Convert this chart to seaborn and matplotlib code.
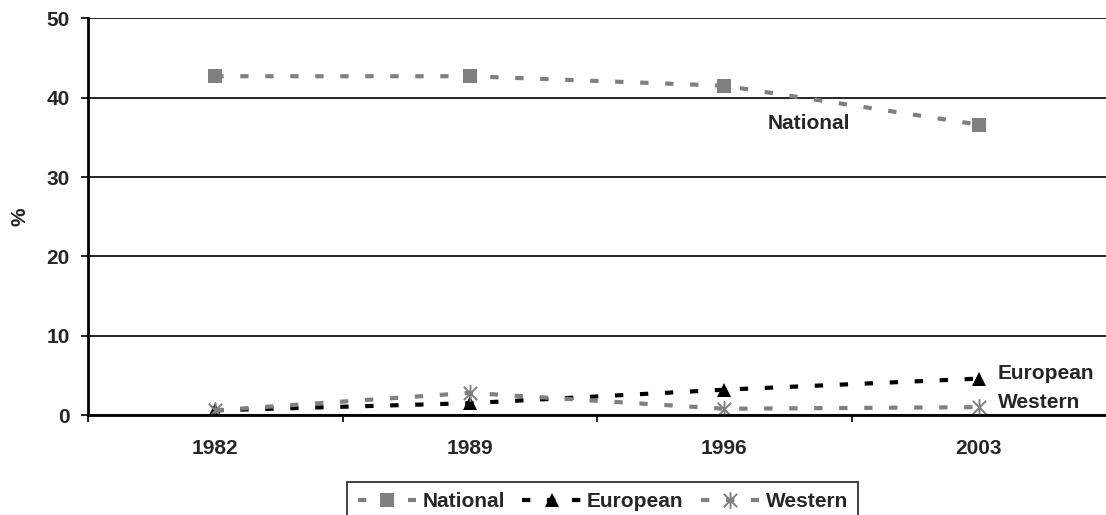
import numpy as np
import pandas as pd
import matplotlib
matplotlib.use("Agg")
import matplotlib.pyplot as plt
from matplotlib.path import Path
import seaborn as sns

years = ["1982", "1989", "1996", "2003"]
national = [42.7, 42.7, 41.5, 36.6]
european = [0.6, 1.5, 3.2, 4.6]
western = [0.6, 2.8, 0.8, 1.0]
yticks = [0, 10, 20, 30, 40, 50]

sns.set_theme(style="white")
plt.rcParams["font.family"] = ["Liberation Sans", "DejaVu Sans"]
plt.rcParams["font.weight"] = "bold"

FS = 15

fig = plt.figure(figsize=(11.06, 5.15), dpi=100)
ax = fig.add_axes([0.0796, 0.194, 0.9204, 0.7705])

x = np.arange(len(years))
star = Path([(-1, -1), (1, 1), (-1, 1), (1, -1), (0, -1.25), (0, 1.25)],
            [Path.MOVETO, Path.LINETO, Path.MOVETO, Path.LINETO, Path.MOVETO, Path.LINETO])

dash = (0, (2, 4))
gray = "#808080"
sns.lineplot(x=x, y=national, ax=ax, color=gray, linestyle=dash, lw=3,
             marker="s", markersize=9.5, mec=gray, mfc=gray, mew=0, label="National")
sns.lineplot(x=x, y=european, ax=ax, color="black", linestyle=dash, lw=3,
             marker="^", markersize=10.5, mec="black", mfc="black", mew=0, label="European")
sns.lineplot(x=x, y=western, ax=ax, color=gray, linestyle=dash, lw=3,
             marker=star, markersize=12, mec=gray, mfc="none", mew=1.4, label="Western")

ax.set_xlim(-0.5, 3.5)
ax.set_ylim(0, 50)
ax.set_yticks(yticks)
ax.set_yticklabels([str(v) for v in yticks])
ax.set_xticks(x)
ax.set_xticklabels(years)
ax.set_xticks([-0.5, 0.5, 1.5, 2.5], minor=True)
ax.tick_params(axis="x", which="major", length=0, pad=17, labelsize=FS)
ax.tick_params(axis="x", which="minor", length=5, width=1.2, color="black", direction="out", bottom=True)
ax.tick_params(axis="y", which="major", length=5, width=1.2, color="black", direction="out",
               pad=8, labelsize=FS, left=True)
for lab in ax.get_xticklabels() + ax.get_yticklabels():
    lab.set_fontweight("bold")

ax.grid(axis="y", color="black", lw=1.2)
ax.grid(axis="x", visible=False)
ax.set_axisbelow(True)
for s in ["top", "right"]:
    ax.spines[s].set_visible(False)
for s in ["left", "bottom"]:
    ax.spines[s].set_color("black")
    ax.spines[s].set_linewidth(2)

ax.set_xlabel("")
ax.set_ylabel("%", fontsize=FS, fontweight="bold", labelpad=12)

ax.text(2.17, 36.8, "National", fontsize=FS, fontweight="bold", va="center", ha="left")
ax.text(3.075, 5.3, "European", fontsize=FS, fontweight="bold", va="center", ha="left")
ax.text(3.075, 1.55, "Western", fontsize=FS, fontweight="bold", va="center", ha="left")

if ax.legend_:
    ax.legend_.remove()
handles, labels = ax.get_legend_handles_labels()
leg = fig.legend(handles, labels, loc="upper center", bbox_to_anchor=(0.545, 1 - 482 / 515), ncol=3,
                 frameon=True, fancybox=False, edgecolor="black",
                 handlelength=2.8, handletextpad=0.3, columnspacing=0.85, borderpad=0.5,
                 borderaxespad=0, prop={"weight": "bold", "size": FS})
leg.get_frame().set_linewidth(1.3)

fig.savefig("out.png", dpi=100)
